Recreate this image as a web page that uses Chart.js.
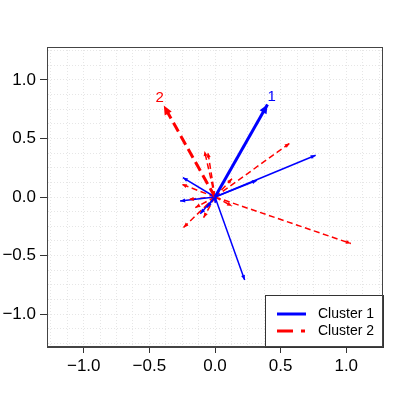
<!DOCTYPE html>
<html>
<head>
<meta charset="utf-8">
<script src="https://cdn.jsdelivr.net/npm/chart.js@4/dist/chart.umd.min.js"></script>
<style>
html,body{margin:0;padding:0;background:#fff;}
canvas{display:block;}
</style>
</head>
<body>
<canvas id="c" width="407" height="407"></canvas>
<script>
// Axis range and ticks
const axisMin = -1.28;
const axisMax = 1.28;
const gridStep = 0.125;
const labelStep = 0.5;

// Cluster arrows (first entry of each = cluster centroid, drawn thick and labelled)
const seriesNames = ["Cluster 1", "Cluster 2"];
const centroidLabels = ["1", "2"];
const cluster1X = [0.40, 0.767, 0.32, 0.226, -0.245, -0.266, -0.112, -0.061, 0.002];
const cluster1Y = [0.79, 0.356, 0.143, -0.709, 0.166, -0.034, -0.142, -0.09, -0.05];
const cluster2X = [-0.39, 0.569, 1.035, -0.08, -0.054, -0.253, -0.2, -0.24, -0.087, -0.15, 0.13, 0.13];
const cluster2Y = [0.78, 0.459, -0.397, 0.393, 0.38, 0.109, -0.02, -0.26, -0.176, -0.09, -0.077, 0.157];

const colors = ["#0000ff", "#ff0000"];

function makeSets(xs, ys, ci) {
  const out = [];
  for (let i = 0; i < xs.length; i++) {
    const thick = i === 0;
    out.push({
      data: [{x: 0, y: 0}, {x: xs[i], y: ys[i]}],
      showLine: true,
      borderColor: colors[ci],
      backgroundColor: colors[ci],
      borderWidth: thick ? 3 : 1.5,
      borderDash: ci === 1 ? (thick ? [10, 5] : [6, 3.5]) : [],
      pointRadius: 0,
      pointHoverRadius: 0,
      _thick: thick,
      _label: thick ? centroidLabels[ci] : null,
      _ci: ci,
      order: thick ? 0 : 1
    });
  }
  return out;
}

const datasets = [...makeSets(cluster1X, cluster1Y, 0), ...makeSets(cluster2X, cluster2Y, 1)];

function isMajor(v) {
  return Math.abs(v / labelStep - Math.round(v / labelStep)) < 1e-6;
}
function fmt(v) {
  if (!isMajor(v)) return '';
  const s = (Math.abs(v) < 1e-9 ? 0 : v).toFixed(1);
  return s.replace('-', '\u2212');
}

const arrowPlugin = {
  id: 'arrows',
  afterDatasetsDraw(chart) {
    const ctx = chart.ctx;
    chart.data.datasets.forEach((ds, di) => {
      const meta = chart.getDatasetMeta(di);
      const p0 = meta.data[0], p1 = meta.data[1];
      const ang = Math.atan2(p1.y - p0.y, p1.x - p0.x);
      const len = ds._thick ? 9 : 5;
      const hw = ds._thick ? 4 : 2;
      ctx.save();
      ctx.fillStyle = ds.borderColor;
      ctx.translate(p1.x, p1.y);
      ctx.rotate(ang);
      ctx.beginPath();
      ctx.moveTo(0, 0);
      ctx.lineTo(-len, -hw);
      ctx.lineTo(-len, hw);
      ctx.closePath();
      ctx.fill();
      ctx.restore();
      if (ds._label) {
        const xs = chart.scales.x, ys = chart.scales.y;
        const d = ds.data[1];
        ctx.save();
        ctx.fillStyle = ds.borderColor;
        ctx.font = '15px "Liberation Sans", Arial, sans-serif';
        ctx.textAlign = 'center';
        ctx.textBaseline = 'middle';
        ctx.fillText(ds._label, xs.getPixelForValue(d.x * 1.08), ys.getPixelForValue(d.y * 1.08));
        ctx.restore();
      }
    });
  }
};

const framePlugin = {
  id: 'frame',
  afterDraw(chart) {
    const ctx = chart.ctx, a = chart.chartArea;
    ctx.save();
    // legend box
    const lx = a.right - 118, ly = a.bottom - 52;
    ctx.fillStyle = '#ffffff';
    ctx.fillRect(lx, ly, a.right - lx, a.bottom - ly);
    ctx.strokeStyle = '#333';
    ctx.lineWidth = 1;
    ctx.strokeRect(lx + 0.5, ly + 0.5, a.right - lx, a.bottom - ly);
    const rows = [ly + 19, ly + 36];
    ctx.lineWidth = 3;
    ctx.lineCap = 'butt';
    for (let i = 0; i < 2; i++) {
      ctx.strokeStyle = colors[i];
      ctx.setLineDash(i === 1 ? [16, 8, 4, 100] : []);
      ctx.beginPath();
      ctx.moveTo(lx + 12, rows[i]);
      ctx.lineTo(lx + 41, rows[i]);
      ctx.stroke();
    }
    ctx.setLineDash([]);
    ctx.fillStyle = '#000';
    ctx.font = '14px "Liberation Sans", Arial, sans-serif';
    ctx.textBaseline = 'middle';
    ctx.textAlign = 'left';
    for (let i = 0; i < 2; i++) ctx.fillText(seriesNames[i], lx + 53, rows[i]);
    // plot frame
    ctx.strokeStyle = '#444';
    ctx.lineWidth = 1;
    ctx.strokeRect(Math.round(a.left) + 0.5, Math.round(a.top) + 0.5, Math.round(a.right - a.left) - 1, Math.round(a.bottom - a.top) - 1);
    ctx.restore();
  }
};

function axisOpts(isX) {
  return {
    type: 'linear',
    min: axisMin,
    max: axisMax,
    grid: {
      color: '#e6e6e6',
      lineWidth: 1,
      tickLength: isX ? 6 : 7,
      tickColor: c => (c.tick && isMajor(c.tick.value)) ? '#333' : 'rgba(0,0,0,0)',
      tickWidth: 1
    },
    border: { display: true, color: '#444', dash: [1, 2] },
    ticks: {
      stepSize: gridStep,
      includeBounds: false,
      autoSkip: false,
      maxRotation: 0,
      minRotation: 0,
      padding: isX ? 3 : 4,
      color: '#000',
      font: { family: '"Liberation Sans", Arial, sans-serif', size: 17 },
      callback: v => fmt(v)
    },
    afterFit: s => { if (isX) s.height = 60; else s.width = 47; }
  };
}

new Chart(document.getElementById('c'), {
  type: 'scatter',
  data: { datasets },
  options: {
    responsive: false,
    animation: false,
    layout: { padding: { left: 0, top: 47, right: 24, bottom: 0 } },
    plugins: { legend: { display: false }, tooltip: { enabled: false } },
    scales: { x: axisOpts(true), y: axisOpts(false) }
  },
  plugins: [arrowPlugin, framePlugin]
});
</script>
</body>
</html>
